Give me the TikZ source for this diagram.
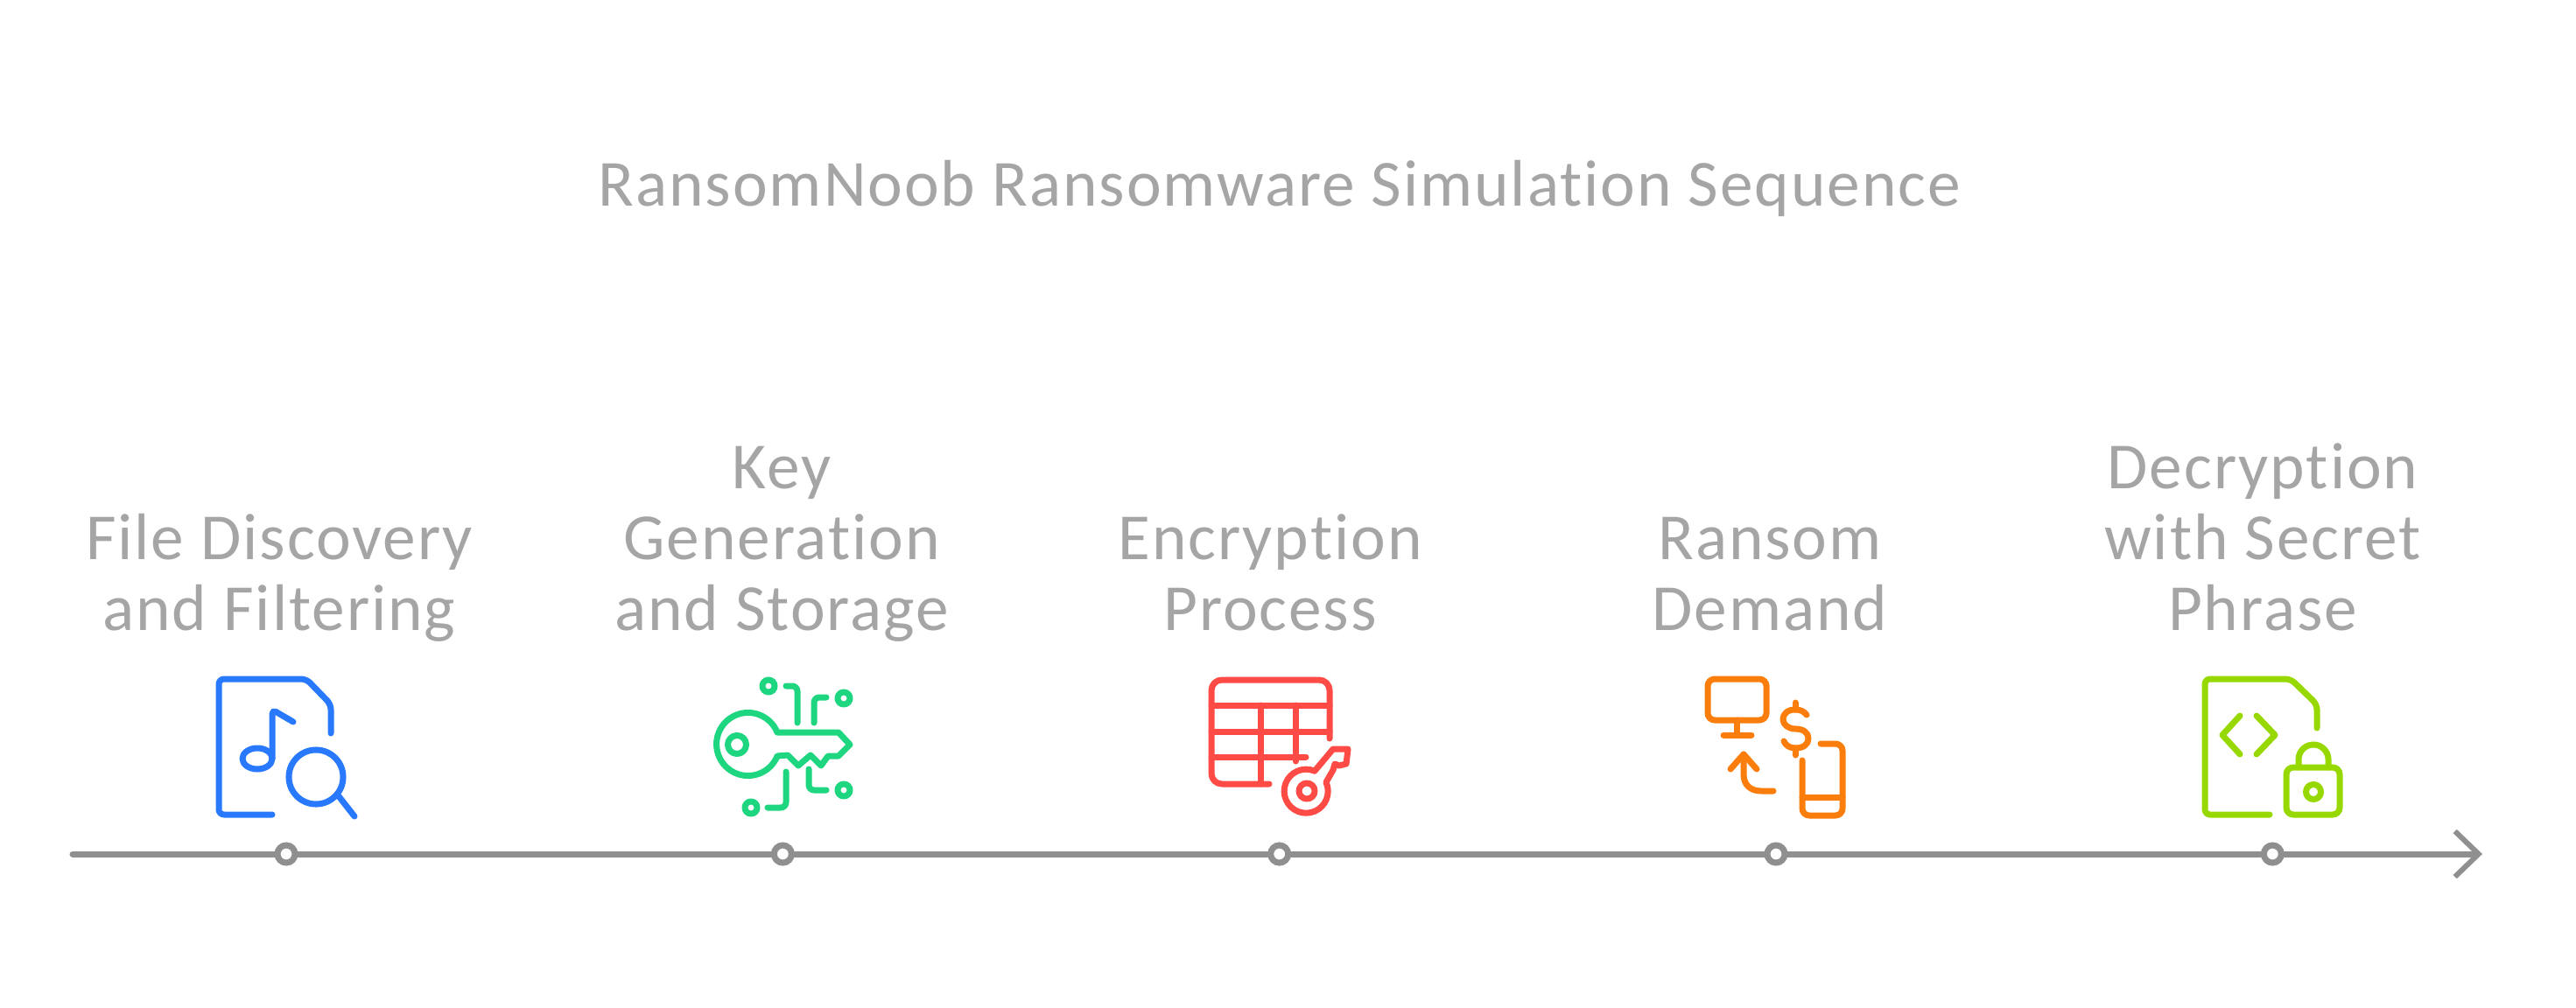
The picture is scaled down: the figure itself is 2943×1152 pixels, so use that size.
\documentclass[tikz,border=0pt]{standalone}
\usepackage{fontspec}
\usepackage{tikz}
\usepackage{xcolor}
\usetikzlibrary{positioning,arrows.meta}
\setmainfont{Carlito}[LetterSpace=2.6,Ligatures=NoCommon]
\definecolor{axisgray}{HTML}{8F8F8F}
\definecolor{textgray}{HTML}{A5A5A5}
\definecolor{iconblue}{HTML}{2979FF}
\definecolor{icongreen}{HTML}{1ED67F}
\definecolor{iconred}{HTML}{FF4B45}
\definecolor{iconorange}{HTML}{FB7E0C}
\definecolor{iconlime}{HTML}{96D800}
\tikzstyle{axis} = [draw=axisgray, line width=0.07cm, line cap=round]
\tikzstyle{stop} = [circle, draw=axisgray, line width=0.07cm, fill=white, inner sep=0pt, minimum size=0.2cm]
\tikzstyle{steptext} = [align=center, anchor=south, inner sep=0pt, text=textgray, font=\fontsize{21.4}{23.1}\selectfont, execute at end node=\strut]
\tikzstyle{icon} = [line width=0.07cm, line cap=round, line join=round]

\begin{document}
\begin{tikzpicture}[x=0.01cm,y=-0.01cm,node distance=5.67cm]
  \useasboundingbox (0,0) rectangle (2943,1152);
  \node[text=textgray, font=\fontsize{21.4}{23.1}\selectfont, inner sep=0pt, anchor=base] (title) at (1462,236) {RansomNoob Ransomware Simulation Sequence};

  \coordinate (start) at (83,976);
  \coordinate (end) at (2836,976);
  \node[stop] (D1) at (327,976) {};
  \node[stop] (D2) [right of=D1] {};
  \node[stop] (D3) [right of=D2] {};
  \node[stop] (D4) [right of=D3] {};
  \node[stop] (D5) [right of=D4] {};

  \draw[axis] (start) -- (D1) -- (D2) -- (D3) -- (D4) -- (D5);
  \draw[axis, arrows={-Straight Barb[length=0.27cm,width=0.52cm,line width=0.06cm]}] (D5) -- (end);

  \node[steptext] (L1) at (319,746) {File Discovery\\and Filtering};
  \node[steptext] (L2) at (893,746) {Key\\Generation\\and Storage};
  \node[steptext] (L3) at (1451,746) {Encryption\\Process};
  \node[steptext] (L4) at (2022,746) {Ransom\\Demand};
  \node[steptext] (L5) at (2585,746) {Decryption\\with Secret\\Phrase};

  % file with note and lens
  \begin{scope}[icon, color=iconblue]
    \draw[rounded corners=0.06cm] (378,838) -- (378,805) -- (350,776) -- (250,776) -- (250,931) -- (311,931);
    \draw[rounded corners=0.05cm] (311,867) -- (311,811) -- (335,825);
    \draw (294,867) circle [x radius=0.17cm, y radius=0.12cm];
    \draw (361,888) circle [radius=0.31cm];
    \draw (387,910) -- (405,933);
  \end{scope}

  % key with circuit
  \begin{scope}[icon, color=icongreen]
    \draw (888,837) -- (958,837) -- (971,851) -- (958,864) -- (946,864) -- (938,875) -- (926,863) -- (912,875) -- (900,863) -- (888,864)
      arc [start angle=338, delta angle=-316, radius=0.36cm];
    \draw (842,851) circle [radius=0.105cm];
    \draw (878,784) circle [radius=0.07cm];
    \draw (964,798) circle [radius=0.07cm];
    \draw (858,923) circle [radius=0.07cm];
    \draw (964,903) circle [radius=0.07cm];
    \draw[rounded corners=0.06cm] (898,784) -- (911,784) -- (911,826);
    \draw[rounded corners=0.06cm] (930,826) -- (930,797) -- (944,797);
    \draw[rounded corners=0.06cm] (898,882) -- (898,923) -- (877,923);
    \draw[rounded corners=0.06cm] (924,879) -- (924,903) -- (944,903);
  \end{scope}

  % table with key
  \begin{scope}[icon, color=iconred]
    \draw[rounded corners=0.12cm] (1519,844) -- (1519,777) -- (1384,777) -- (1384,896) -- (1450,896);
    \draw (1384,806) -- (1519,806);
    \draw (1384,836) -- (1519,836);
    \draw (1384,865) -- (1492,865);
    \draw (1440,806) -- (1440,896);
    \draw (1480,806) -- (1480,870);
    \draw (1515,894) arc [start angle=24, end angle=-293, radius=0.25cm]
      -- (1523,856) -- (1540,856) -- (1538,873) -- (1530,875) -- (1525,873) -- (1523,880) -- cycle;
    \draw (1493,904) circle [radius=0.09cm];
  \end{scope}

  % monitor, coin sign and phone
  \begin{scope}[icon, color=iconorange]
    \draw[rounded corners=0.08cm] (1951,776) rectangle (2018,823);
    \draw (1984,823) -- (1984,840);
    \draw (1969,840) -- (2001,840);
    \draw (2051,803) -- (2051,811);
    \draw (2051,855) -- (2051,863);
    \draw (2064,817) .. controls (2061,813) and (2057,811) .. (2051,811) .. controls (2042,811) and (2037,816) .. (2037,822) .. controls (2037,828) and (2043,833) .. (2051,833) .. controls (2060,833) and (2066,837) .. (2066,844) .. controls (2066,851) and (2060,855) .. (2051,855) .. controls (2045,855) and (2040,852) .. (2038,847);
    \draw (1977,879) -- (1992,862) -- (2007,879);
    \draw (1992,862) -- (1992,885) .. controls (1992,897) and (2000,904) .. (2012,904) -- (2026,904);
    \draw[rounded corners=0.08cm] (2059,869) -- (2059,932) -- (2105,932) -- (2105,850) -- (2080,850);
    \draw (2059,911) -- (2105,911);
  \end{scope}

  % file with code and lock
  \begin{scope}[icon, color=iconlime]
    \draw[rounded corners=0.06cm] (2647,832) -- (2647,805) -- (2617,776) -- (2519,776) -- (2519,931) -- (2593,931);
    \draw (2559,818) -- (2539,840) -- (2559,862);
    \draw (2578,818) -- (2599,840) -- (2578,862);
    \draw[rounded corners=0.08cm] (2612,877) rectangle (2673,931);
    \draw (2626,877) -- (2626,868) arc [start angle=180, end angle=0, radius=0.17cm] -- (2660,877);
    \draw (2643,905) circle [radius=0.085cm];
  \end{scope}
\end{tikzpicture}
\end{document}
